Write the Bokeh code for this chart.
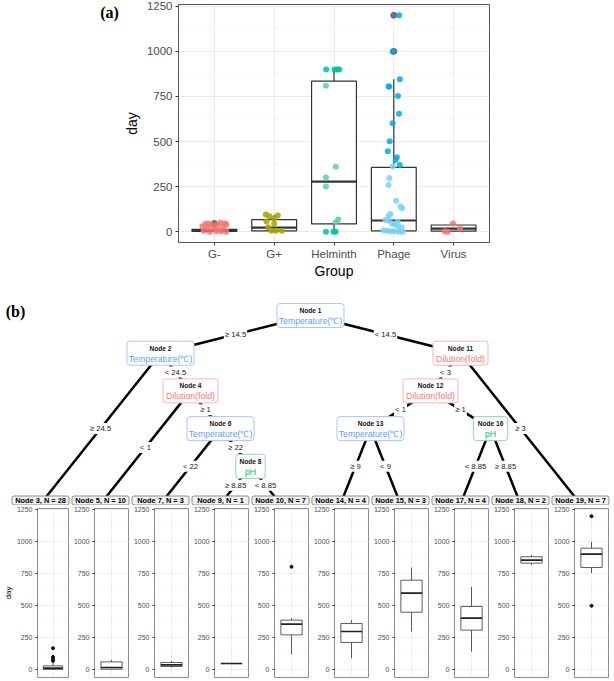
from bokeh.plotting import figure
from bokeh.layouts import column, row
from bokeh.models import Range1d, FixedTicker, Grid
from bokeh.core.properties import value
from bokeh.embed import file_html
from bokeh.resources import INLINE

FONT = "Liberation Sans"
SERIF = "Liberation Serif"

# ---------------- panel (a) data ----------------
groups = ["G-", "G+", "Helminth", "Phage", "Virus"]
whisker_low = [0, 0, 0, 0, 0]
q1 = [2, 5, 43, 5, 3]
median = [7, 22, 278, 62, 17]
q3 = [13, 67, 835, 357, 37]
whisker_high = [28, 92, 900, 845, 46]
outlier_group = ["G-", "Phage", "Phage"]
outlier_day = [46, 1000, 1200]

gneg_jitter = [-0.15, -0.10, 0.10, 0.18, 0.20, -0.20, -0.05, 0.05, 0.15, -0.12, 0.00, 0.08, -0.18, 0.12, 0.20, -0.08, 0.03]
gneg_day = [43, 46, 50, 46, 40, 30, 35, 38, 28, 20, 15, 10, 5, 3, 0, 0, 2]
gpos_jitter = [-0.14, 0.06, -0.08, 0.00, -0.13, 0.00, -0.05, 0.03, 0.13, -0.10]
gpos_day = [95, 90, 85, 74, 56, 46, 5, 5, 5, 24]
helm_jitter_dark = [-0.13, 0.01, 0.05, 0.09, -0.135, -0.01, 0.03]
helm_day_dark = [900, 900, 900, 900, 0, 0, 0]
helm_jitter_light = [-0.135, 0.03, -0.135, -0.135, 0.07, 0.03]
helm_day_light = [810, 360, 300, 250, 67, 52]
phage_jitter_dark = [0.09, -0.02, 0.10, -0.087, -0.076, 0.07, 0.087, -0.02, -0.07, -0.10, 0.05, 0.03, 0.10]
phage_day_dark = [1200, 1000, 845, 805, 805, 752, 654, 602, 502, 446, 413, 398, 370]
phage_jitter_light = [-0.016, -0.076, -0.087, 0.04, 0.11, 0.14, -0.054, -0.087, -0.14, -0.087, -0.03,
                      0.02, 0.076, 0.13, -0.17, -0.114, -0.06, -0.005, 0.05, 0.10, 0.15, 0.065]
phage_day_light = [361, 298, 259, 172, 140, 130, 98, 89, 65, 60, 45, 38, 30, 25, 8, 5, 3, 2, 1, 0, 0, 55]
virus_jitter = [-0.01, -0.10, 0.11, -0.15]
virus_day = [46, 0, 18, 2]

day_ticks = [0, 250, 500, 750, 1000, 1250]
day_minor = [125, 375, 625, 875, 1125]

# ---------------- panel (b) data ----------------
edge_parent = [1, 1, 2, 2, 4, 4, 6, 6, 8, 8, 11, 11, 12, 12, 13, 13, 16, 16]
edge_child = [2, 11, 3, 4, 5, 6, 7, 8, 9, 10, 12, 19, 13, 16, 14, 15, 17, 18]
edge_label = ["≥ 14.5", "< 14.5", "≥ 24.5", "< 24.5", "< 1", "≥ 1", "< 22", "≥ 22", "≥ 8.85", "< 8.85",
              "< 3", "≥ 3", "< 1", "≥ 1", "≥ 9", "< 9", "< 8.85", "≥ 8.85"]
inner_ids = [1, 2, 4, 6, 8, 11, 12, 13, 16]
inner_var = ["Temperature(℃)", "Temperature(℃)", "Dilution(fold)", "Temperature(℃)", "pH",
             "Dilution(fold)", "Dilution(fold)", "Temperature(℃)", "pH"]
leaf_ids = [3, 5, 7, 9, 10, 14, 15, 17, 18, 19]
leaf_n = [28, 10, 3, 1, 7, 4, 3, 4, 2, 7]
leaf_low = [0, 0, 18, 49, 122, 91, 299, 143, 818, 755]
leaf_q1 = [3, 5, 26, 49, 273, 214, 450, 310, 833, 799]
leaf_med = [13, 18, 39, 49, 357, 299, 599, 404, 857, 904]
leaf_q3 = [31, 62, 57, 49, 388, 362, 700, 495, 883, 950]
leaf_high = [57, 78, 70, 49, 404, 388, 799, 648, 898, 1000]
out_leaf = [3, 3, 3, 3, 10, 19, 19]
out_day = [70, 83, 101, 169, 805, 500, 1200]

# ---------------- styles ----------------
var_text = {"Temperature(℃)": "#619CFF", "Dilution(fold)": "#F8766D", "pH": "#00BF6A"}
var_border = {"Temperature(℃)": "#A9C7FB", "Dilution(fold)": "#F8B5AF", "pH": "#86DDB0"}
var_boxw = {"Temperature(℃)": 67, "Dilution(fold)": 55, "pH": 0}
W = 612
HA = 290
LW = 120  # width of the strip that carries the "(a)" tag


def blank(width, height, xr, yr):
    f = figure(width=width, height=height, x_range=xr, y_range=yr, output_backend="svg",
               toolbar_location=None, x_axis_type=None, y_axis_type=None, min_border=0)
    f.grid.visible = False
    f.outline_line_color = None
    return f


# ======================= panel (a) =======================
tag_a = blank(LW, HA, Range1d(0, LW), Range1d(HA, 0))
tag_a.text(x=[109], y=[10], text=["(a)"], text_align="center", text_baseline="middle",
           text_font=value(SERIF), text_font_style="bold", text_font_size="16px", text_color="#000000")

pa = figure(width=W - LW, height=HA, x_range=Range1d(0.4, 5.6), y_range=Range1d(-60, 1260),
            output_backend="svg", toolbar_location=None,
            min_border_left=171 - LW, min_border_right=W - 489, min_border_top=4, min_border_bottom=HA - 242)
pa.outline_line_color = "#555555"
pa.outline_line_width = 1
gx = list(range(1, len(groups) + 1))
pa.xaxis.ticker = FixedTicker(ticks=gx, minor_ticks=[])
pa.xaxis.major_label_overrides = {i: g for i, g in zip(gx, groups)}
pa.yaxis.ticker = FixedTicker(ticks=day_ticks, minor_ticks=day_minor)
for ax in (pa.xaxis, pa.yaxis):
    ax.axis_line_color = None
    ax.major_tick_line_color = "#333333"
    ax.major_tick_out = 3
    ax.major_tick_in = 0
    ax.minor_tick_line_color = None
    ax.major_label_text_font = FONT
    ax.major_label_text_font_size = "11.5px"
    ax.major_label_text_color = "#4D4D4D"
    ax.axis_label_text_font = FONT
    ax.axis_label_text_font_size = "14px"
    ax.axis_label_text_font_style = "normal"
    ax.axis_label_text_color = "#000000"
pa.xaxis.axis_label = "Group"
pa.yaxis.axis_label = "day"
pa.xaxis.major_label_standoff = 2
pa.xaxis.axis_label_standoff = 0
pa.yaxis.major_label_standoff = 2
pa.yaxis.axis_label_standoff = 4
pa.grid.grid_line_color = "#EBEBEB"
pa.grid.grid_line_width = 1
pa.ygrid.minor_grid_line_color = "#F3F3F3"
pa.ygrid.minor_grid_line_width = 0.7

gpos = {g: i for g, i in zip(groups, gx)}
pa.segment(x0=gx, y0=whisker_low, x1=gx, y1=q1, color="#333333", line_width=1.2)
pa.segment(x0=gx, y0=q3, x1=gx, y1=whisker_high, color="#333333", line_width=1.2)
pa.vbar(x=gx, bottom=q1, top=q3, width=0.75, fill_color="white", line_color="#333333", line_width=1.2)
pa.segment(x0=[x - 0.375 for x in gx], y0=median, x1=[x + 0.375 for x in gx], y1=median,
           color="#333333", line_width=2.2)
pa.scatter(x=[gpos[g] for g in outlier_group], y=outlier_day, size=6, color="#555555", alpha=0.8)


def jit(group, offsets):
    return [gpos[group] + o for o in offsets]


pts = [("G-", gneg_jitter, gneg_day, "#F8766D"),
       ("G+", gpos_jitter, gpos_day, "#A3A500"),
       ("Helminth", helm_jitter_light, helm_day_light, "#55D0A8"),
       ("Helminth", helm_jitter_dark, helm_day_dark, "#00BFA5"),
       ("Phage", phage_jitter_light, phage_day_light, "#7BD3F2"),
       ("Phage", phage_jitter_dark, phage_day_dark, "#00A9E6"),
       ("Virus", virus_jitter, virus_day, "#F8766D")]
for g, offs, days, col in pts:
    pa.scatter(x=jit(g, offs), y=days, size=6, color=col, alpha=0.85, line_color=None)

# ======================= panel (b) tree =======================
TH = 215
pt = blank(W, TH, Range1d(0, W), Range1d(TH, 0))

mini_w = 60
day_pad = 10
top_pad = 25
level_gap = 37.7
leaf_label_y = 210

children = {}
depth = {1: 0}
for pp, cc in zip(edge_parent, edge_child):
    children.setdefault(pp, []).append(cc)
    depth[cc] = depth[pp] + 1

leaf_x = {lid: day_pad + mini_w / 2 + mini_w * i for i, lid in enumerate(leaf_ids)}


def leaves_under(n):
    if n in leaf_x:
        return [n]
    out = []
    for c in children[n]:
        out += leaves_under(c)
    return out


node_x = {}
node_y = {}
for n in inner_ids:
    lv = leaves_under(n)
    node_x[n] = sum(leaf_x[l] for l in lv) / len(lv)
    node_y[n] = top_pad + level_gap * depth[n]
for l in leaf_ids:
    node_x[l] = leaf_x[l]
    node_y[l] = top_pad + level_gap * 5

ex0 = [node_x[p] for p in edge_parent]
ey0 = [node_y[p] for p in edge_parent]
ex1 = [node_x[c] for c in edge_child]
ey1 = [node_y[c] for c in edge_child]
pt.segment(x0=ex0, y0=ey0, x1=ex1, y1=ey1, color="#000000", line_width=2.5)
pt.text(x=[(a + b) / 2 for a, b in zip(ex0, ex1)], y=[(a + b) / 2 for a, b in zip(ey0, ey1)],
        text=edge_label, text_align="center", text_baseline="middle", text_font=value(FONT),
        text_font_size="7.7px", text_color="#222222", background_fill_color="white", padding=1)

ix = [node_x[n] for n in inner_ids]
iy = [node_y[n] for n in inner_ids]
iw = [max(var_boxw[v], 4.9 * len("Node %d" % n)) for n, v in zip(inner_ids, inner_var)]
pt.rect(x=ix, y=iy, width=iw, height=24, width_units="screen", height_units="screen",
        fill_color="white", line_color=[var_border[v] for v in inner_var], line_width=1,
        border_radius=3)
pt.text(x=ix, y=[y - 5 for y in iy], text=["Node %d" % n for n in inner_ids], text_align="center",
        text_baseline="middle", text_font=value(FONT), text_font_style="bold", text_font_size="6.6px",
        text_color="#111111")
pt.text(x=ix, y=[y + 5.5 for y in iy], text=inner_var, text_align="center", text_baseline="middle",
        text_font=value(FONT), text_font_size="8.7px", text_color=[var_text[v] for v in inner_var])

lx = [leaf_x[l] for l in leaf_ids]
pt.rect(x=lx, y=[leaf_label_y] * len(lx), width=57, height=9, width_units="screen",
        height_units="screen", fill_color="#F2F2F2", line_color="#8C8C8C", line_width=1,
        border_radius=2)
pt.text(x=lx, y=[leaf_label_y] * len(lx),
        text=["Node %d, N = %d" % (l, n) for l, n in zip(leaf_ids, leaf_n)],
        text_align="center", text_baseline="middle", text_font=value(FONT), text_font_style="bold",
        text_font_size="7.4px", text_color="#000000")
pt.text(x=[15], y=[21], text=["(b)"], text_align="center", text_baseline="middle",
        text_font=value(SERIF), text_font_style="bold", text_font_size="16px", text_color="#000000")

# ======================= terminal boxplots =======================
mini_figs = []
for i, leaf in enumerate(leaf_ids):
    first = i == 0
    f = figure(width=mini_w + (day_pad if first else 0), height=174,
               x_range=Range1d(0.4, 1.6), y_range=Range1d(-60, 1260),
               output_backend="svg", toolbar_location=None, x_axis_type=None,
               min_border_left=23 + (day_pad if first else 0), min_border_right=2,
               min_border_top=3, min_border_bottom=2)
    f.outline_line_color = "#6E6E6E"
    f.outline_line_width = 0.8
    f.yaxis.ticker = FixedTicker(ticks=day_ticks, minor_ticks=day_minor)
    f.yaxis.axis_line_color = None
    f.yaxis.major_tick_line_color = "#333333"
    f.yaxis.major_tick_out = 2
    f.yaxis.major_tick_in = 0
    f.yaxis.minor_tick_line_color = None
    f.yaxis.major_label_text_font = FONT
    f.yaxis.major_label_text_font_size = "7px"
    f.yaxis.major_label_text_color = "#4D4D4D"
    f.yaxis.major_label_standoff = 1
    if first:
        f.yaxis.axis_label = "day"
        f.yaxis.axis_label_text_font = FONT
        f.yaxis.axis_label_text_font_size = "8px"
        f.yaxis.axis_label_text_font_style = "normal"
        f.yaxis.axis_label_text_color = "#000000"
        f.yaxis.axis_label_standoff = 1
    f.ygrid.grid_line_color = "#EBEBEB"
    f.ygrid.grid_line_width = 0.8
    f.ygrid.minor_grid_line_color = "#F3F3F3"
    f.ygrid.minor_grid_line_width = 0.6
    f.add_layout(Grid(dimension=0, ticker=FixedTicker(ticks=[1]), grid_line_color="#EBEBEB",
                      grid_line_width=0.8))

    f.segment(x0=[1, 1], y0=[leaf_low[i], leaf_q3[i]], x1=[1, 1], y1=[leaf_q1[i], leaf_high[i]],
              color="#333333", line_width=0.8)
    f.vbar(x=[1], bottom=[leaf_q1[i]], top=[leaf_q3[i]], width=0.75, fill_color="white",
           line_color="#333333", line_width=0.8)
    f.segment(x0=[1 - 0.375], y0=[leaf_med[i]], x1=[1 + 0.375], y1=[leaf_med[i]],
              color="#222222", line_width=1.6)
    oy = [d for l, d in zip(out_leaf, out_day) if l == leaf]
    if oy:
        f.scatter(x=[1] * len(oy), y=oy, size=3, color="#111111")
    mini_figs.append(f)

layout = column(row(tag_a, pa, spacing=0), row(pt, spacing=0), row(*mini_figs, spacing=0), spacing=0)
open("out.html", "w").write(file_html(layout, INLINE))
